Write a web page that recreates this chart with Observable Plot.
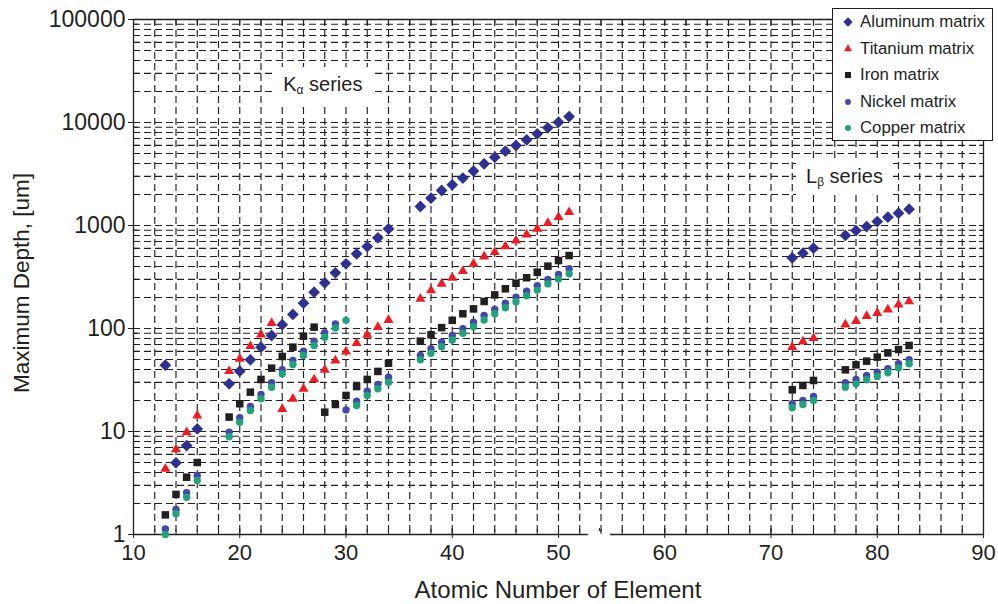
<!DOCTYPE html>
<html><head><meta charset="utf-8">
<script src="https://cdn.jsdelivr.net/npm/d3@7"></script>
<script src="https://cdn.jsdelivr.net/npm/@observablehq/plot@0.6"></script>
<style>
body{margin:0;background:#fff;font-family:"Liberation Sans",Arial,sans-serif;}
#wrap{position:relative;width:998px;height:604px;overflow:hidden;}
.lbl{position:absolute;color:#231f20;white-space:nowrap;line-height:1;}
#legend{position:absolute;left:832px;top:8px;width:161px;height:133px;border:1px solid #231f20;background:#fff;box-sizing:border-box;}
.lg{position:absolute;left:0;height:20px;display:flex;align-items:center;font-size:16.8px;color:#231f20;white-space:nowrap;}
.lg svg{margin-left:8px;margin-right:5px;}
.ann{position:absolute;background:#fff;color:#231f20;font-size:20px;white-space:nowrap;line-height:1;padding:7px 10px;}
.ann sub{font-size:12px;vertical-align:-3px;}
</style></head><body><div id="wrap"></div>
<script>
// Atomic numbers shared by every series
const atomicNumbers = [13,14,15,16,
  19,20,21,22,23,24,25,26,27,28,29,30,31,32,33,34,
  37,38,39,40,41,42,43,44,45,46,47,48,49,50,51,
  72,73,74,77,78,79,80,81,82,83];

const aluminumMatrix = [44,4.97,7.3,10.6,
  29,38.5,49.7,65.9,85.5,109,137,176,225,278,347,425,531,625,759,929,
  1529,1841,2187,2484,2884,3373,3972,4610,5272,5980,6790,7765,8875,10070,11430,
  486,538,603,800,894,977,1093,1205,1318,1442];

const titaniumMatrix = [4.34,6.7,9.8,14.3,
  38.5,50.8,67.3,87.5,113,16.5,20.8,26,32,39.7,48.9,59.8,72,86.9,103,121,
  194,234,272,311,360,425,500,551,629,715,818,929,1054,1205,1346,
  65.9,74.8,80.5,109,118,132,141,153,171,183];

const ironMatrix = [1.55,2.45,3.6,5.0,
  13.8,18.6,24.1,32,41.2,53.5,65.9,84.2,103,15.4,18.3,22.4,27.3,32,38.3,46,
  75.3,86.9,102,120,139,155,183,212,243,275,311,352,403,457,511,
  25.4,28,31.3,39.7,44.4,48.2,52.7,58,62.5,68.4];

const nickelMatrix = [1.13,1.75,2.54,3.74,
  9.85,13.6,17.5,22.9,29.7,39.7,48.9,60.2,75.3,90.8,111,16.2,19.7,24.6,28.6,33.7,
  54.7,63.5,73.6,85.5,99.3,115,134,153,176,201,230,261,299,334,380,
  18.6,20,21.9,29.7,32,35,37.7,40.6,45.4,49.7];

const copperMatrix = [1.0,1.59,2.3,3.35,
  8.9,12.3,16,20.8,26.9,36.3,44.7,54.7,68.4,82.4,101,120,17.9,22.4,26,30.1,
  49.7,57.5,66.6,77.4,90,104,121,139,159,182,208,236,271,302,340,
  17,18.3,20,26.9,29,31.8,34.2,37.2,41.5,45.4];

const seriesNames = ["Aluminum matrix","Titanium matrix","Iron matrix","Nickel matrix","Copper matrix"];
const seriesValues = [aluminumMatrix, titaniumMatrix, ironMatrix, nickelMatrix, copperMatrix];
const seriesColors = ["#2e3192","#ed1c24","#231f20","#4448a8","#1fa37c"];
const seriesSymbols = ["diamond2","triangle2","square2","circle","circle"];
const seriesRadius = [5.3,4.8,4.8,3.7,3.7];

const xTicks = [10,20,30,40,50,60,70,80,90];
const yTicks = [1,10,100,1000,10000,100000];
const xBreak = [52.8, 54.9];
const annotations = [
  {html:"K<sub>α</sub> series", z:23.2, v:34000},
  {html:"L<sub>β</sub> series", z:72.4, v:4400}
];

const xDomain = [xTicks[0], xTicks[xTicks.length-1]];
const yDomain = [yTicks[0], yTicks[yTicks.length-1]];
const xMinor = d3.range(xDomain[0] + 2, xDomain[1], 2);
const yMinor = [];
for (let k = 0; k < yTicks.length - 1; k++) for (let m = 1; m <= 9; m++) yMinor.push(m * yTicks[k]);
const yGrid = yMinor.filter(v => v > yDomain[0]);
const axisSegments = [{a: xDomain[0], b: xBreak[0]}, {a: xBreak[1], b: xDomain[1]}];

const ink = "#231f20";
const gridStyle = {stroke: ink, strokeOpacity: 1, strokeWidth: 1.15, strokeDasharray: "7,4"};

const dotMarks = seriesNames.map((name, i) =>
  Plot.dot(atomicNumbers.map((z, j) => ({z, v: seriesValues[i][j]})), {
    x: "z", y: "v", symbol: seriesSymbols[i], r: seriesRadius[i],
    fill: seriesColors[i], stroke: "none"
  })
);

const W = 998, H = 604, mL = 133, mR = 15, mT = 19, mB = 70;
const chart = Plot.plot({
  width: W, height: H,
  marginLeft: mL, marginRight: mR, marginTop: mT, marginBottom: mB,
  x: {domain: xDomain},
  y: {type: "log", domain: yDomain},
  style: {fontFamily: "'Liberation Sans', Arial, sans-serif", color: ink, background: "white", overflow: "visible"},
  marks: [
    Plot.gridX({ticks: xMinor, ...gridStyle}),
    Plot.gridY({ticks: yGrid, ...gridStyle}),
    Plot.ruleX([xDomain[0], xDomain[1]], {stroke: ink, strokeWidth: 1.3}),
    Plot.ruleY([yDomain[1]], {stroke: ink, strokeWidth: 1.3}),
    Plot.ruleY(axisSegments, {y: () => yDomain[0], x1: "a", x2: "b", stroke: ink, strokeWidth: 1.3}),
    Plot.axisX({ticks: xTicks, tickSize: 4, tickPadding: 6, fontSize: 22, tickFormat: d => String(d), label: null}),
    Plot.axisX({ticks: xTicks, tickSize: -6, text: null, label: null}),
    Plot.axisX({ticks: xMinor, tickSize: -5, text: null, label: null}),
    Plot.axisX({ticks: [(xBreak[0] + xBreak[1]) / 2], tickSize: -3, dy: -3, text: null, label: null}),
    Plot.axisX({anchor: "top", ticks: xMinor, tickSize: -5, text: null, label: null}),
    Plot.axisY({ticks: yTicks, tickSize: 5, tickPadding: 3, fontSize: 23, tickFormat: d => String(d), label: null}),
    Plot.axisY({ticks: yMinor, tickSize: -5, text: null, label: null}),
    Plot.axisY({anchor: "right", ticks: yMinor, tickSize: -5, text: null, label: null}),
    ...dotMarks
  ]
});

const wrap = document.getElementById("wrap");
wrap.appendChild(chart);

const sx = chart.scale("x"), sy = chart.scale("y");

// annotations with white background boxes
annotations.forEach(a => {
  const d = document.createElement("div");
  d.className = "ann";
  d.innerHTML = a.html;
  d.style.left = sx.apply(a.z) + "px";
  d.style.top = sy.apply(a.v) + "px";
  wrap.appendChild(d);
});

// axis titles
const xt = document.createElement("div");
xt.className = "lbl";
xt.textContent = "Atomic Number of Element";
xt.style.fontSize = "24px";
xt.style.left = (mL + (W - mL - mR) / 2) + "px";
xt.style.top = "578px";
xt.style.transform = "translateX(-50%)";
wrap.appendChild(xt);

const yt = document.createElement("div");
yt.className = "lbl";
yt.textContent = "Maximum Depth, [um]";
yt.style.fontSize = "22.5px";
yt.style.left = "22px";
yt.style.top = ((mT + H - mB) / 2 + 6) + "px";
yt.style.transform = "translate(-50%,-50%) rotate(-90deg)";
wrap.appendChild(yt);

// legend
const lg = document.createElement("div");
lg.id = "legend";
seriesNames.forEach((name, i) => {
  const row = document.createElement("div");
  row.className = "lg";
  row.style.top = (3 + i * 26.5) + "px";
  const path = d3.symbol(
    {diamond2: d3.symbolDiamond2, triangle2: d3.symbolTriangle2, square2: d3.symbolSquare2, circle: d3.symbolCircle}[seriesSymbols[i]],
    Math.PI * Math.pow(seriesRadius[i] * 0.8, 2))();
  row.innerHTML = `<svg width="14" height="14" viewBox="-7 -7 14 14"><path d="${path}" fill="${seriesColors[i]}"/></svg><span>${name}</span>`;
  lg.appendChild(row);
});
wrap.appendChild(lg);
</script></body></html>
